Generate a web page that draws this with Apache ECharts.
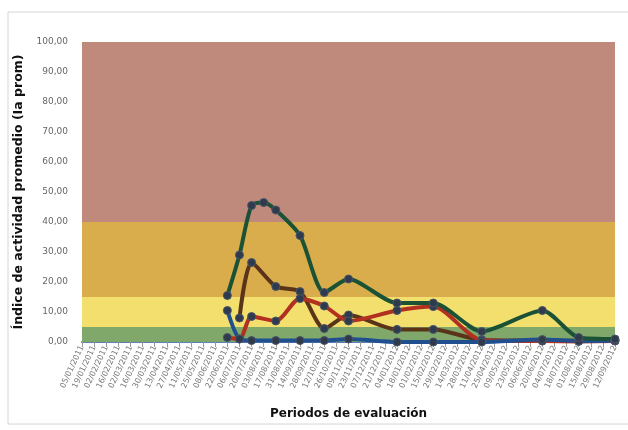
<!DOCTYPE html>
<html>
<head>
<meta charset="utf-8">
<script src="https://cdn.jsdelivr.net/npm/echarts@6/dist/echarts.min.js"></script>
<style>
  html, body { margin: 0; padding: 0; background: #fff; }
  #chart { width: 628px; height: 430px; }
</style>
</head>
<body>
<div id="chart"></div>
<script>
// fechas de evaluacion (ilegibles en el original, aproximadas)
const fechas = [
  '05/01/2011', '19/01/2011', '02/02/2011', '16/02/2011', '02/03/2011', '16/03/2011', '30/03/2011', '13/04/2011', '27/04/2011',
  '11/05/2011', '25/05/2011', '08/06/2011', '22/06/2011', '06/07/2011', '20/07/2011', '03/08/2011', '17/08/2011', '31/08/2011',
  '14/09/2011', '28/09/2011', '12/10/2011', '26/10/2011', '09/11/2011', '23/11/2011', '07/12/2011', '21/12/2011', '04/01/2012',
  '18/01/2012', '01/02/2012', '15/02/2012', '29/02/2012', '14/03/2012', '28/03/2012', '11/04/2012', '25/04/2012', '09/05/2012',
  '23/05/2012', '06/06/2012', '20/06/2012', '04/07/2012', '18/07/2012', '01/08/2012', '15/08/2012', '29/08/2012', '12/09/2012'
]

const _ = null
const serieVerde = [
  _, _, _, _, _, _, _, _, _, _, _, _, 15.5, 29, 45.5, 46.5, 44, _, 35.5, _, 16.5, _, 21, _, _, _, 13, _, _,
  13, _, _, _, 3.5, _, _, _, _, 10.5, _, _, 1.5, _, _, 1
]
const serieCafe = [
  _, _, _, _, _, _, _, _, _, _, _, _, _, 8, 26.5, _, 18.5, _, 16.8, _, 4.5, _, 9, _, _, _, 4.2, _, _,
  4.2, _, _, _, 0.7, _, _, _, _, 0.5, _, _, 0.4, _, _, 0.5
]
const serieRoja = [
  _, _, _, _, _, _, _, _, _, _, _, _, 1.5, 1, 8.5, _, 7, _, 14.5, _, 12, _, 7, _, _, _, 10.5, _, _,
  11.8, _, _, _, 0.6, _, _, _, _, 0.3, _, _, 0.2, _, _, 0.3
]
const serieAzul = [
  _, _, _, _, _, _, _, _, _, _, _, _, 10.5, 1, 0.5, _, 0.5, _, 0.5, _, 0.5, _, 1, _, _, _, 0, _, _,
  0, _, _, _, 0, _, _, _, _, 0.8, _, _, 0.3, _, _, 0.5
]

// rangos de actividad (fondo)
const rangos = [
  [0, 5, '#7fa86a'],
  [5, 15, '#f3df6e'],
  [15, 40, '#d9ac4c'],
  [40, 100, '#bf8a7b']
]

function linea(nombre, datos, color, extra) {
  return Object.assign({
    name: nombre,
    type: 'line',
    data: datos,
    connectNulls: true,
    smooth: 0.25,
    symbol: 'circle',
    symbolSize: 8,
    lineStyle: { color: color, width: 4 },
    itemStyle: { color: '#2f3b4c', borderColor: '#4a5568', borderWidth: 1 }
  }, extra || {})
}

const chart = echarts.init(document.getElementById('chart'))
chart.setOption({
  animation: false,
  graphic: [{
    type: 'rect',
    shape: { x: 8, y: 12, width: 640, height: 412 },
    style: { fill: 'none', stroke: '#d6d6d6', lineWidth: 1 }
  }],
  grid: { left: 82, right: 13, top: 42, bottom: 88 },
  xAxis: {
    type: 'category',
    data: fechas,
    boundaryGap: false,
    name: 'Periodos de evaluación',
    nameLocation: 'middle',
    nameGap: 66,
    nameTextStyle: { fontFamily: 'DejaVu Sans', fontWeight: 'bold', fontSize: 12, color: '#111' },
    axisLine: { lineStyle: { color: '#5b7fb8', width: 2 } },
    axisTick: { show: true, alignWithLabel: true, lineStyle: { color: '#999' } },
    axisLabel: { interval: 0, rotate: 65, fontSize: 8, color: '#777', fontFamily: 'DejaVu Sans', margin: 4 }
  },
  yAxis: {
    type: 'value',
    min: 0,
    max: 100,
    interval: 10,
    name: 'Índice de actividad promedio (Ia prom)',
    nameLocation: 'middle',
    nameGap: 56,
    nameTextStyle: { fontFamily: 'DejaVu Sans', fontWeight: 'bold', fontSize: 12.5, color: '#111' },
    axisLine: { show: false },
    axisTick: { show: false },
    splitLine: { show: false },
    axisLabel: {
      fontSize: 9,
      color: '#666',
      fontFamily: 'DejaVu Sans',
      margin: 14,
      formatter: v => v.toFixed(2).replace('.', ',')
    }
  },
  series: [
    linea('Café', serieCafe, '#5a3418', {
      markArea: {
        silent: true,
        data: rangos.map(r => [{ yAxis: r[0], itemStyle: { color: r[2], opacity: 1 } }, { yAxis: r[1] }])
      }
    }),
    linea('Roja', serieRoja, '#b2301f'),
    linea('Azul', serieAzul, '#1f4f8f'),
    linea('Verde', serieVerde, '#1b5236')
  ]
})
</script>
</body>
</html>
